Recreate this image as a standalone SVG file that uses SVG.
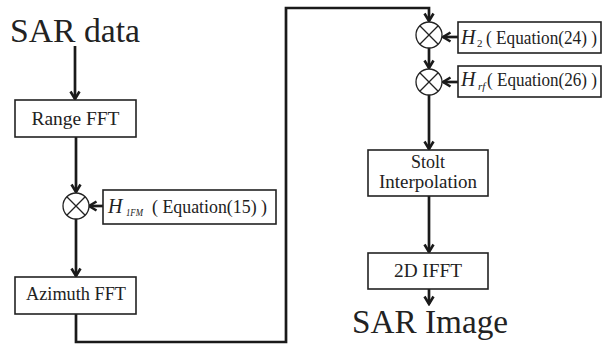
<svg xmlns="http://www.w3.org/2000/svg" width="602" height="344" viewBox="0 0 602 344">
<style>
.box{fill:#fff;stroke:#222;stroke-width:1.6}
.mul{fill:#fff;stroke:#222;stroke-width:1.3}
.x{stroke:#222;stroke-width:1.3;fill:none}
.t{font-family:"Liberation Serif","DejaVu Serif",serif;fill:#222}
.c{fill:none;stroke:#1a1a1a;stroke-width:2.7}
</style>
<defs>
<marker id="ah" viewBox="0 0 12 12" refX="10" refY="6" markerWidth="12" markerHeight="12" markerUnits="userSpaceOnUse" orient="auto">
<path d="M2.5,1.5 L10,6 L2.5,10.5" fill="none" stroke="#1a1a1a" stroke-width="2.6"/>
</marker>
</defs>
<g id="connectors">
<path class="c" d="M75,46 V99" marker-end="url(#ah)"/>
<path class="c" d="M76,137 V192" marker-end="url(#ah)"/>
<path class="c" d="M103,206 H89" marker-end="url(#ah)"/>
<path class="c" d="M76,219 V276" marker-end="url(#ah)"/>
<path class="c" d="M76,314 V342 H286 V8 H429 V21" marker-end="url(#ah)"/>
<path class="c" d="M458,37 H443" marker-end="url(#ah)"/>
<path class="c" d="M429,48 V68" marker-end="url(#ah)"/>
<path class="c" d="M458,82 H443" marker-end="url(#ah)"/>
<path class="c" d="M429,95 V149" marker-end="url(#ah)"/>
<path class="c" d="M429,196 V252" marker-end="url(#ah)"/>
<path class="c" d="M429,289 V304" marker-end="url(#ah)"/>
</g>
<g id="sar-data">
<text class="t" x="10" y="42" font-size="34" textLength="130" lengthAdjust="spacingAndGlyphs">SAR data</text>
</g>
<g id="range-fft">
<rect class="box" x="15" y="100" width="121" height="37"/>
<text class="t" x="75.5" y="125" font-size="18" text-anchor="middle" textLength="88" lengthAdjust="spacingAndGlyphs">Range FFT</text>
</g>
<g id="mult1">
<circle class="mul" cx="76" cy="206" r="13"/>
<path class="x" d="M66.8,196.8 L85.2,215.2 M85.2,196.8 L66.8,215.2"/>
</g>
<g id="h1fm">
<rect class="box" x="103" y="190" width="173" height="34"/>
<text class="t" x="108" y="213" font-size="20" font-style="italic">H</text>
<text class="t" x="126" y="216" font-size="10" font-style="italic" textLength="17" lengthAdjust="spacingAndGlyphs">1FM</text>
<text class="t" x="152" y="213" font-size="18" textLength="115" lengthAdjust="spacingAndGlyphs">( Equation(15) )</text>
</g>
<g id="azimuth-fft">
<rect class="box" x="15" y="277" width="121" height="37"/>
<text class="t" x="76" y="300" font-size="18" text-anchor="middle" textLength="100" lengthAdjust="spacingAndGlyphs">Azimuth FFT</text>
</g>
<g id="mult2">
<circle class="mul" cx="429" cy="35" r="13"/>
<path class="x" d="M419.8,25.8 L438.2,44.2 M438.2,25.8 L419.8,44.2"/>
</g>
<g id="h2">
<rect class="box" x="458" y="22" width="143" height="31"/>
<text class="t" x="461" y="44" font-size="20" font-style="italic">H</text>
<text class="t" x="477" y="47" font-size="11">2</text>
<text class="t" x="486" y="44" font-size="18" textLength="111" lengthAdjust="spacingAndGlyphs">( Equation(24) )</text>
</g>
<g id="mult3">
<circle class="mul" cx="429" cy="82" r="13"/>
<path class="x" d="M419.8,72.8 L438.2,91.2 M438.2,72.8 L419.8,91.2"/>
</g>
<g id="hrf">
<rect class="box" x="458" y="66" width="143" height="31"/>
<text class="t" x="461" y="86" font-size="20" font-style="italic">H</text>
<text class="t" x="478" y="90" font-size="11" font-style="italic">rf</text>
<text class="t" x="487" y="86" font-size="18" textLength="110" lengthAdjust="spacingAndGlyphs">( Equation(26) )</text>
</g>
<g id="stolt">
<rect class="box" x="368" y="150" width="120" height="46"/>
<text class="t" x="428" y="168" font-size="18" text-anchor="middle">Stolt</text>
<text class="t" x="428" y="188" font-size="18" text-anchor="middle" textLength="98" lengthAdjust="spacingAndGlyphs">Interpolation</text>
</g>
<g id="ifft">
<rect class="box" x="368" y="253" width="120" height="36"/>
<text class="t" x="428" y="277" font-size="18" text-anchor="middle" textLength="68" lengthAdjust="spacingAndGlyphs">2D IFFT</text>
</g>
<g id="sar-image">
<text class="t" x="352" y="333" font-size="34" textLength="156" lengthAdjust="spacingAndGlyphs">SAR Image</text>
</g>
</svg>
